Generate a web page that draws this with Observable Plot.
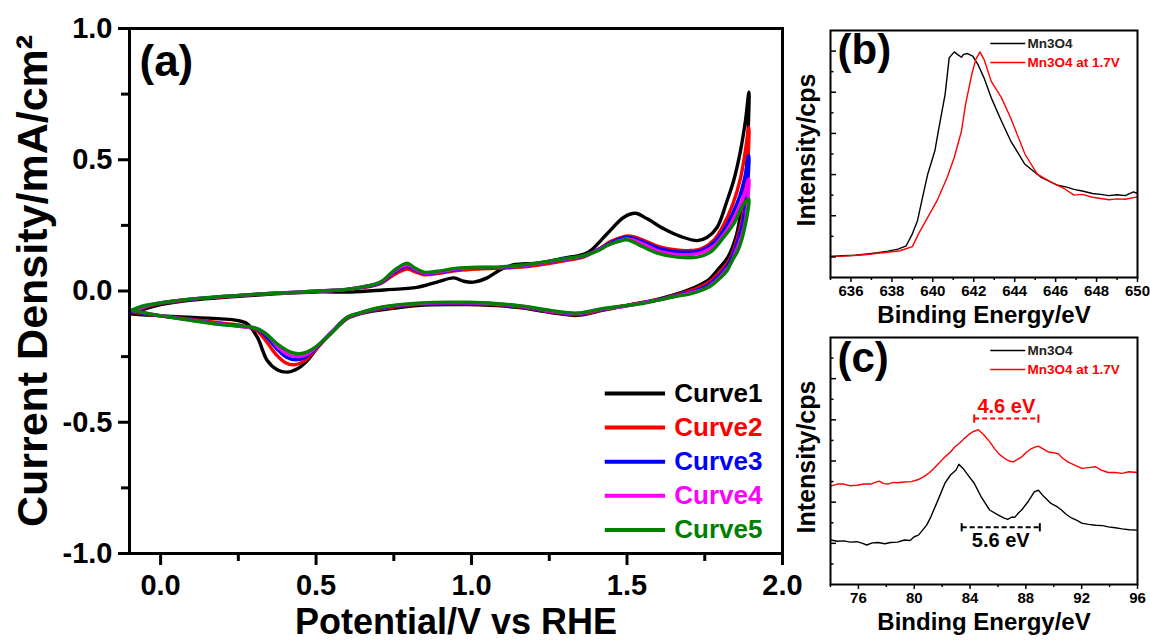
<!DOCTYPE html>
<html>
<head>
<meta charset="utf-8">
<script src="https://cdn.jsdelivr.net/npm/d3@7"></script>
<script src="https://cdn.jsdelivr.net/npm/@observablehq/plot@0.6"></script>
<style>
  body { margin: 0; background: #fff; }
  #fig { position: relative; width: 1150px; height: 641px; overflow: hidden; background: #fff; }
  #fig > div { position: absolute; }
  #pa { left: 0; top: 0; }
  #pb { left: 780px; top: 0; }
  #pc { left: 780px; top: 320px; }
  svg { overflow: visible; }
</style>
</head>
<body>
<div id="fig"><div id="pa"></div><div id="pb"></div><div id="pc"></div></div>
<script>
// ---------- (a) cyclic voltammetry, five successive cycles: [potential V vs RHE, current density mA/cm2]
const cvNames = ["Curve1", "Curve2", "Curve3", "Curve4", "Curve5"];
const cvColors = ["#000000", "#ff0000", "#0000ff", "#ff00ff", "#008000"];

const curve1 = [
  [-0.091,-0.085],[-0.05,-0.068],[0.0,-0.052],[0.086,-0.036],[0.30,-0.016],[0.514,-0.003],[0.611,-0.004],
  [0.718,0.004],[0.825,0.014],[0.889,0.034],[0.943,0.050],[0.975,0.037],[1.007,0.034],[1.05,0.050],
  [1.093,0.081],[1.136,0.100],[1.21,0.106],[1.297,0.125],[1.36,0.140],[1.383,0.154],[1.436,0.218],
  [1.49,0.281],[1.527,0.296],[1.565,0.275],[1.618,0.237],[1.672,0.208],[1.726,0.192],[1.758,0.205],
  [1.79,0.243],[1.822,0.345],[1.843,0.421],[1.865,0.535],[1.881,0.650],[1.892,0.757],
  [1.89,0.62],[1.885,0.48],[1.875,0.36],[1.862,0.27],[1.85,0.205],[1.825,0.13],[1.79,0.078],
  [1.765,0.045],[1.74,0.027],[1.70,0.005],[1.65,-0.015],[1.597,-0.032],[1.50,-0.055],[1.42,-0.074],
  [1.34,-0.093],[1.254,-0.082],[1.147,-0.062],[0.986,-0.052],[0.825,-0.055],[0.718,-0.071],
  [0.643,-0.086],[0.60,-0.105],[0.568,-0.138],[0.514,-0.201],[0.472,-0.265],[0.44,-0.296],
  [0.407,-0.309],[0.375,-0.300],[0.343,-0.265],[0.311,-0.176],[0.279,-0.125],[0.246,-0.112],
  [0.193,-0.106],[0.086,-0.100],[-0.021,-0.093],[-0.091,-0.088]
];
const curve2 = [
  [-0.091,-0.078],[-0.021,-0.052],[0.086,-0.034],[0.30,-0.014],[0.514,-0.001],[0.611,0.007],
  [0.707,0.028],[0.75,0.062],[0.793,0.084],[0.815,0.075],[0.847,0.062],[0.889,0.066],[0.954,0.078],
  [1.018,0.084],[1.083,0.086],[1.147,0.090],[1.21,0.098],[1.297,0.115],[1.361,0.130],[1.41,0.160],
  [1.45,0.190],[1.505,0.210],[1.55,0.195],[1.60,0.170],[1.66,0.156],[1.70,0.154],[1.74,0.162],
  [1.78,0.195],[1.81,0.250],[1.84,0.330],[1.865,0.430],[1.88,0.530],[1.892,0.624],
  [1.89,0.52],[1.886,0.42],[1.878,0.33],[1.866,0.25],[1.852,0.19],[1.83,0.12],[1.80,0.075],
  [1.77,0.040],[1.74,0.018],[1.70,0.000],[1.65,-0.018],[1.597,-0.034],[1.50,-0.055],[1.42,-0.072],
  [1.34,-0.090],[1.254,-0.079],[1.147,-0.059],[0.986,-0.048],[0.825,-0.051],[0.718,-0.066],
  [0.643,-0.085],[0.60,-0.103],[0.55,-0.158],[0.50,-0.222],[0.462,-0.266],[0.43,-0.281],
  [0.40,-0.272],[0.37,-0.240],[0.34,-0.192],[0.31,-0.152],[0.27,-0.134],[0.193,-0.122],
  [0.086,-0.106],[-0.021,-0.092],[-0.091,-0.080]
];
const curve3 = [
  [-0.091,-0.076],[-0.021,-0.050],[0.086,-0.033],[0.30,-0.013],[0.514,0.000],[0.611,0.008],
  [0.707,0.031],[0.75,0.070],[0.793,0.095],[0.815,0.082],[0.847,0.067],[0.889,0.070],[0.954,0.083],
  [1.018,0.088],[1.083,0.089],[1.147,0.094],[1.21,0.103],[1.297,0.120],[1.361,0.133],[1.41,0.160],
  [1.45,0.185],[1.50,0.205],[1.55,0.188],[1.60,0.163],[1.66,0.149],[1.70,0.148],[1.74,0.155],
  [1.78,0.185],[1.81,0.230],[1.84,0.295],[1.865,0.370],[1.88,0.440],[1.892,0.516],
  [1.89,0.44],[1.886,0.37],[1.878,0.30],[1.866,0.23],[1.85,0.17],[1.832,0.115],[1.808,0.075],
  [1.775,0.036],[1.745,0.012],[1.70,-0.005],[1.65,-0.020],[1.597,-0.035],[1.50,-0.056],[1.42,-0.070],
  [1.34,-0.088],[1.254,-0.077],[1.147,-0.057],[0.986,-0.046],[0.825,-0.049],[0.718,-0.063],
  [0.643,-0.084],[0.60,-0.101],[0.55,-0.156],[0.50,-0.217],[0.465,-0.252],[0.435,-0.262],
  [0.405,-0.252],[0.375,-0.222],[0.345,-0.180],[0.31,-0.146],[0.27,-0.136],[0.193,-0.125],
  [0.086,-0.108],[-0.021,-0.091],[-0.091,-0.077]
];
const curve4 = [
  [-0.091,-0.074],[-0.021,-0.050],[0.086,-0.032],[0.30,-0.013],[0.514,0.000],[0.611,0.008],
  [0.707,0.033],[0.75,0.074],[0.793,0.100],[0.815,0.086],[0.847,0.069],[0.889,0.072],[0.954,0.085],
  [1.018,0.089],[1.083,0.090],[1.147,0.095],[1.21,0.104],[1.297,0.121],[1.361,0.134],[1.41,0.158],
  [1.45,0.180],[1.50,0.198],[1.55,0.180],[1.60,0.153],[1.66,0.139],[1.70,0.138],[1.74,0.146],
  [1.78,0.172],[1.81,0.212],[1.84,0.268],[1.865,0.330],[1.88,0.380],[1.892,0.427],
  [1.89,0.37],[1.886,0.31],[1.878,0.25],[1.866,0.20],[1.85,0.15],[1.834,0.105],[1.812,0.070],
  [1.78,0.032],[1.75,0.008],[1.70,-0.008],[1.65,-0.021],[1.597,-0.035],[1.50,-0.056],[1.42,-0.069],
  [1.34,-0.086],[1.254,-0.076],[1.147,-0.056],[0.986,-0.045],[0.825,-0.048],[0.718,-0.061],
  [0.643,-0.083],[0.60,-0.101],[0.55,-0.157],[0.50,-0.214],[0.468,-0.243],[0.44,-0.250],
  [0.41,-0.242],[0.378,-0.214],[0.348,-0.173],[0.31,-0.143],[0.27,-0.137],[0.193,-0.126],
  [0.086,-0.109],[-0.021,-0.090],[-0.091,-0.075]
];
const curve5 = [
  [-0.091,-0.072],[-0.06,-0.058],[-0.021,-0.049],[0.086,-0.032],[0.30,-0.013],[0.514,0.000],
  [0.611,0.008],[0.707,0.034],[0.75,0.078],[0.793,0.106],[0.815,0.090],[0.847,0.072],[0.889,0.075],
  [0.954,0.087],[1.018,0.091],[1.083,0.091],[1.147,0.097],[1.21,0.106],[1.297,0.123],[1.361,0.135],
  [1.41,0.155],[1.436,0.173],[1.47,0.188],[1.50,0.195],[1.543,0.173],[1.597,0.144],[1.661,0.129],
  [1.726,0.129],[1.768,0.148],[1.811,0.205],[1.843,0.256],[1.876,0.332],[1.892,0.351],
  [1.888,0.30],[1.88,0.25],[1.87,0.20],[1.855,0.15],[1.835,0.11],[1.822,0.078],[1.80,0.050],
  [1.77,0.020],[1.74,0.003],[1.70,-0.012],[1.65,-0.022],[1.597,-0.036],[1.543,-0.049],[1.48,-0.058],
  [1.415,-0.068],[1.34,-0.084],[1.254,-0.074],[1.147,-0.055],[0.986,-0.043],[0.825,-0.046],
  [0.718,-0.060],[0.643,-0.082],[0.60,-0.100],[0.55,-0.160],[0.50,-0.212],[0.472,-0.232],
  [0.445,-0.239],[0.418,-0.233],[0.375,-0.201],[0.332,-0.157],[0.30,-0.140],[0.193,-0.128],
  [0.086,-0.110],[-0.021,-0.090],[-0.091,-0.073]
];
const cvCurves = [curve1, curve2, curve3, curve4, curve5];

const cvXTicks = [0, 0.5, 1.0, 1.5, 2.0];
const cvXMinor = [0.25, 0.75, 1.25, 1.75];
const cvYTicks = [-1.0, -0.5, 0.0, 0.5, 1.0];
const cvYMinor = [-0.75, -0.25, 0.25, 0.75];

// ---------- (b) Mn 2p3/2 XPS region: [binding energy eV, intensity (a.u.)]
const mn2pNames = ["Mn3O4", "Mn3O4 at 1.7V"];
const mn2pPristine = [
  [635,1.01],[635.6,1.03],[636.2,1.04],[636.8,1.07],[637.3,1.10],[637.8,1.14],[638.3,1.19],
  [638.7,1.27],[639.0,1.56],[639.25,1.88],[639.5,2.45],[639.75,3.01],[640.1,3.58],[640.3,4.14],
  [640.6,4.95],[640.8,5.84],[641.05,5.98],[641.2,5.92],[641.4,5.85],[641.5,5.92],[641.7,5.94],
  [641.95,5.88],[642.2,5.68],[642.5,5.35],[642.85,4.87],[643.35,4.30],[643.8,3.82],[644.5,3.25],
  [645.3,2.93],[646.1,2.74],[646.5,2.70],[646.9,2.64],[647.3,2.60],[647.8,2.54],[648.2,2.52],
  [648.6,2.49],[649.0,2.51],[649.4,2.49],[649.8,2.58],[650,2.54]
];
const mn2pOxidised = [
  [635,1.01],[635.6,1.02],[636.3,1.04],[636.8,1.06],[637.3,1.09],[637.9,1.12],[638.4,1.15],
  [639.0,1.25],[639.3,1.56],[639.75,1.96],[640.2,2.36],[640.7,2.93],[641.05,3.42],[641.4,4.06],
  [641.6,4.71],[641.9,5.43],[642.1,5.80],[642.3,5.98],[642.5,5.80],[642.85,5.27],[643.35,4.87],
  [643.8,4.38],[644.5,3.50],[645.1,3.01],[645.8,2.81],[646.45,2.65],[646.9,2.50],[647.3,2.52],
  [647.8,2.45],[648.2,2.42],[648.6,2.39],[649.0,2.41],[649.4,2.40],[650,2.46]
];
const mn2pXTicks = [636, 638, 640, 642, 644, 646, 648, 650];
const mn2pXMinor = [635, 637, 639, 641, 643, 645, 647, 649];
const mn2pYTicks = [1, 2, 3, 4, 5, 6];
const mn2pYMinor = [1.5, 2.5, 3.5, 4.5, 5.5];

// ---------- (c) Mn 3s XPS region: [binding energy eV, intensity (a.u.)]
const mn3sPristine = [
  [74,1.08],[74.5,1.05],[74.96,1.06],[75.4,1.03],[75.9,1.04],[76.3,1.00],[76.6,0.96],[77.0,1.01],
  [77.4,1.02],[77.9,0.99],[78.3,1.02],[78.8,1.03],[79.3,1.08],[79.7,1.07],[80.0,1.16],[80.3,1.20],
  [80.6,1.32],[80.9,1.45],[81.2,1.65],[81.7,2.05],[82.2,2.46],[82.6,2.66],[83.0,2.78],[83.2,2.92],
  [83.5,2.82],[83.8,2.68],[84.3,2.46],[84.8,2.13],[85.4,1.81],[86.0,1.69],[86.4,1.62],[86.7,1.58],
  [87.0,1.64],[87.2,1.63],[87.5,1.75],[87.7,1.81],[88.15,2.01],[88.6,2.25],[88.9,2.29],[89.2,2.17],
  [89.8,1.97],[90.2,1.90],[90.55,1.81],[90.9,1.70],[91.3,1.61],[91.7,1.55],[92.0,1.49],[92.5,1.46],
  [93.0,1.44],[93.5,1.43],[93.9,1.40],[94.4,1.38],[94.9,1.35],[95.4,1.33],[96,1.32]
];
const mn3sOxidised = [
  [74,2.39],[74.5,2.44],[74.96,2.44],[75.4,2.40],[75.9,2.41],[76.4,2.44],[76.9,2.44],[77.2,2.48],
  [77.5,2.51],[77.8,2.45],[78.1,2.44],[78.5,2.48],[78.8,2.47],[79.3,2.49],[79.8,2.50],[80.3,2.55],
  [80.7,2.62],[81.1,2.72],[81.4,2.82],[81.8,2.96],[82.2,3.10],[82.6,3.22],[82.9,3.34],[83.3,3.45],
  [83.6,3.55],[83.9,3.64],[84.2,3.71],[84.6,3.76],[85.0,3.63],[85.4,3.47],[85.75,3.30],[86.1,3.16],
  [86.5,3.06],[86.8,3.00],[87.1,2.98],[87.4,3.04],[87.7,3.10],[88.0,3.20],[88.3,3.28],[88.6,3.33],
  [88.9,3.36],[89.2,3.30],[89.6,3.22],[90.0,3.20],[90.3,3.18],[90.6,3.08],[91.0,2.98],[91.5,2.90],
  [92.0,2.82],[92.5,2.84],[93.0,2.86],[93.4,2.78],[93.9,2.72],[94.4,2.72],[94.9,2.70],[95.4,2.74],
  [96,2.72]
];
const mn3sXTicks = [76, 80, 84, 88, 92, 96];
const mn3sXMinor = [74, 78, 82, 86, 90, 94];
const mn3sYTicks = [1, 2, 3, 4, 5];
const mn3sYMinor = [0.5, 1.5, 2.5, 3.5, 4.5, 5.5];

// multiplet splitting of the Mn 3s doublet
const splitLabels = ["4.6 eV", "5.6 eV"];
const splitWidth = [4.6, 5.6];
const splitStart = [84.3, 83.4];
const splitLevel = [4.03, 1.39];
const splitColors = ["#ff0000", "#000000"];
const splitLabelLevel = [4.32, 1.07];

// ---------- shared styling
const FONT = "'Liberation Sans', Arial, Helvetica, sans-serif";
const bold = {fontWeight: "bold"};

// (a)
{
  const W = 800, H = 641;
  const legendRows = cvNames.map((name, i) => ({name, color: cvColors[i], y: -0.39 - 0.13 * i}));
  const plotA = Plot.plot({
    width: W, height: H,
    marginLeft: 129, marginRight: 18, marginTop: 28, marginBottom: 88,
    x: {domain: [-0.1, 2.0]},
    y: {domain: [-1, 1]},
    style: {fontFamily: FONT, color: "#000", background: "transparent", overflow: "visible"},
    marks: [
      ...cvCurves.map((c, i) => Plot.line(c, {stroke: cvColors[i], strokeWidth: 3.4, curve: "catmull-rom"})),
      Plot.ruleY(legendRows, {y: "y", x1: 1.43, x2: 1.624, stroke: "color", strokeWidth: 4}),
      Plot.text(legendRows, {x: 1.652, y: "y", text: "name", fill: "color", textAnchor: "start", fontSize: 26, ...bold}),
      Plot.axisX({ticks: cvXTicks, tickFormat: d => d.toFixed(1), tickSize: 12, tickPadding: 9, strokeWidth: 3,
                  fontSize: 29, ...bold, label: null}),
      Plot.axisX({ticks: cvXMinor, tickFormat: () => "", tickSize: 8, strokeWidth: 3, label: null}),
      Plot.axisY({ticks: cvYTicks, tickFormat: d => d.toFixed(1), tickSize: 11, tickPadding: 6, strokeWidth: 3,
                  fontSize: 29, ...bold, label: null}),
      Plot.axisY({ticks: cvYMinor, tickFormat: () => "", tickSize: 8, strokeWidth: 3, label: null}),
      Plot.text(["Potential/V vs RHE"], {frameAnchor: "bottom", dy: 69, fontSize: 36, ...bold, lineAnchor: "middle"}),
      Plot.text(["Current Density/mA/cm²"], {frameAnchor: "left", dx: -96, dy: -10, rotate: -90, fontSize: 43, ...bold,
                  textAnchor: "middle", lineAnchor: "middle"}),
      Plot.text(["(a)"], {frameAnchor: "top-left", dx: 10, dy: 16, fontSize: 44, ...bold, textAnchor: "start", lineAnchor: "top"}),
      Plot.frame({stroke: "#000", strokeWidth: 3})
    ]
  });
  document.getElementById("pa").append(plotA);
}

// (b) and (c) share one layout
function xpsPanel({el, H, mTop, mBottom, xDomain, yDomain, series, xTicks, xMinor, yTicks, yMinor, tag, tagDy, extra = []}) {
  const W = 370, mLeft = 50, mRight = 13;
  const frameW = W - mLeft - mRight;
  const legend = mn2pNames.map((name, i) => ({name, color: series[i].color, i}));
  const lx = v => xDomain[0] + (xDomain[1] - xDomain[0]) * v;
  const ly = v => yDomain[1] - (yDomain[1] - yDomain[0]) * v;
  const p = Plot.plot({
    width: W, height: H,
    marginLeft: mLeft, marginRight: mRight, marginTop: mTop, marginBottom: mBottom,
    x: {domain: xDomain},
    y: {domain: yDomain, axis: null},
    style: {fontFamily: FONT, color: "#000", background: "transparent", overflow: "visible"},
    marks: [
      ...series.map(s => Plot.line(s.data, {stroke: s.color, strokeWidth: 1.4})),
      ...extra,
      Plot.ruleY(legend, {y: d => ly(0.053 + 0.077 * d.i), x1: lx(0.522), x2: lx(0.636), stroke: "color", strokeWidth: 1.5}),
      Plot.text(legend, {x: lx(0.642), y: d => ly(0.053 + 0.077 * d.i), text: "name", fill: d => d.i ? "#ff0000" : "#222",
                         textAnchor: "start", fontSize: 13.5, ...bold}),
      Plot.axisX({ticks: xTicks, tickSize: 5, tickPadding: 3, strokeWidth: 1.5, fontSize: 15, ...bold, label: null}),
      Plot.axisX({ticks: xMinor, tickFormat: () => "", tickSize: 3, strokeWidth: 1.5, label: null}),
      Plot.tickY(yTicks, {y: d => d, insetRight: frameW - 6, strokeWidth: 1.5}),
      Plot.tickY(yMinor, {y: d => d, insetRight: frameW - 3.5, strokeWidth: 1.5}),
      Plot.text(["Binding Energy/eV"], {frameAnchor: "bottom", dy: 38, fontSize: 24, ...bold, lineAnchor: "middle"}),
      Plot.text(["Intensity/cps"], {frameAnchor: "left", dx: -24, dy: -4, rotate: -90, fontSize: 25, ...bold,
                  textAnchor: "middle", lineAnchor: "middle"}),
      Plot.text([tag], {frameAnchor: "top-left", dx: 7, dy: tagDy, fontSize: 42, ...bold, textAnchor: "start", lineAnchor: "top"}),
      Plot.frame({stroke: "#000", strokeWidth: 2})
    ]
  });
  document.getElementById(el).append(p);
}

xpsPanel({
  el: "pb", H: 330, mTop: 30, mBottom: 53,
  xDomain: [635, 650], yDomain: [0.5, 6.5],
  series: [{data: mn2pPristine, color: "#000"}, {data: mn2pOxidised, color: "#ff0000"}],
  xTicks: mn2pXTicks, xMinor: mn2pXMinor, yTicks: mn2pYTicks, yMinor: mn2pYMinor, tag: "(b)", tagDy: 4
});

const splits = splitLabels.map((label, i) => ({
  label, x1: splitStart[i], x2: splitStart[i] + splitWidth[i], y: splitLevel[i],
  ly: splitLabelLevel[i], color: splitColors[i]
}));
const splitCaps = splits.flatMap(s => [{x: s.x1, y: s.y, color: s.color}, {x: s.x2, y: s.y, color: s.color}]);

xpsPanel({
  el: "pc", H: 321, mTop: 17, mBottom: 57,
  xDomain: [74, 96], yDomain: [0, 6],
  series: [{data: mn3sPristine, color: "#000"}, {data: mn3sOxidised, color: "#ff0000"}],
  xTicks: mn3sXTicks, xMinor: mn3sXMinor, yTicks: mn3sYTicks, yMinor: mn3sYMinor, tag: "(c)", tagDy: 5,
  extra: [
    Plot.link(splits, {x1: "x1", x2: "x2", y1: "y", y2: "y", stroke: "color", strokeWidth: 2, strokeDasharray: "5,3"}),
    Plot.link(splitCaps, {x1: "x", x2: "x", y1: d => d.y - 0.1, y2: d => d.y + 0.1, stroke: "color", strokeWidth: 2}),
    Plot.text(splits, {x: d => (d.x1 + d.x2) / 2, y: "ly", text: "label", fill: "color", fontSize: 20, fontWeight: "bold"})
  ]
});
</script>
</body>
</html>
